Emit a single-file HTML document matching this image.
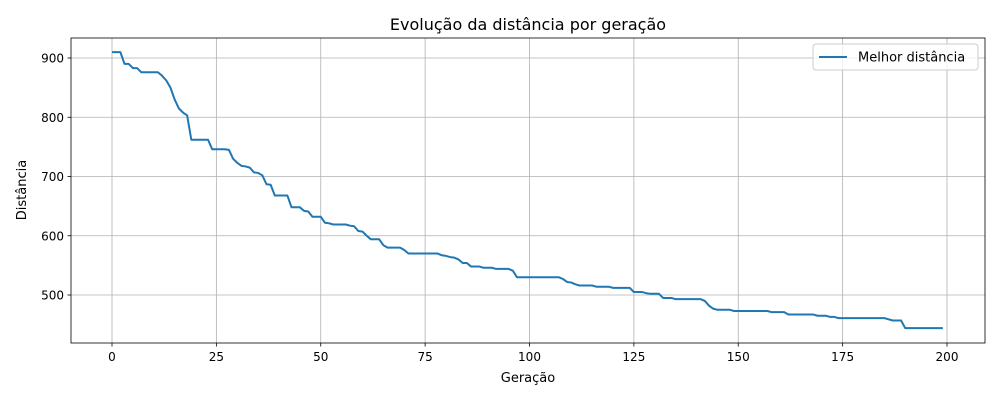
<!DOCTYPE html>
<html><head><meta charset="utf-8"><style>
body{margin:0;background:#fff;}
svg text{font-family:"DejaVu Sans","Liberation Sans",sans-serif;}
</style></head><body>
<svg id="chart" width="1000" height="400" xmlns="http://www.w3.org/2000/svg">
<rect width="1000" height="400" fill="#fff"/>
<g id="grid"></g>
<g id="ticks"></g>
<rect x="71" y="38" width="914" height="305" fill="none" stroke="#000" stroke-width="0.8"/>
<path id="line" fill="none" stroke="#1f77b4" stroke-width="2" stroke-linejoin="round"/>
<text x="528" y="30" font-size="16" text-anchor="middle">Evolução da distância por geração</text>
<text x="528" y="382" font-size="13" text-anchor="middle">Geração</text>
<text x="26" y="190" font-size="13" text-anchor="middle" transform="rotate(-90 26 190)">Distância</text>
<g>
<rect x="813" y="44" width="165" height="26" rx="3" fill="#fff" stroke="#ccc" stroke-width="1" fill-opacity="0.8"/>
<line x1="819" y1="57" x2="847" y2="57" stroke="#1f77b4" stroke-width="2"/>
<text x="858" y="61.5" font-size="13">Melhor distância</text>
</g>
</svg>
<script>
const xTicks=[0,25,50,75,100,125,150,175,200];
const yTicks=[500,600,700,800,900];
const distances=[
910,910,910,890,890,883,883,876,876,876,
876,876,870,862,850,830,815,808,803,762,
762,762,762,762,746,746,746,746,745,730,
723,718,717,715,707,706,702,687,686,668,
668,668,668,648,648,648,642,641,632,632,
632,622,621,619,619,619,619,617,616,608,
607,600,594,594,594,584,580,580,580,580,
576,570,570,570,570,570,570,570,570,567,
566,564,563,560,554,554,548,548,548,546,
546,546,544,544,544,544,541,530,530,530,
530,530,530,530,530,530,530,530,527,522,
521,518,516,516,516,516,514,514,514,514,
512,512,512,512,512,505,505,505,503,502,
502,502,495,495,495,493,493,493,493,493,
493,493,490,482,477,475,475,475,475,473,
473,473,473,473,473,473,473,473,471,471,
471,471,467,467,467,467,467,467,467,465,
465,465,463,463,461,461,461,461,461,461,
461,461,461,461,461,461,459,457,457,457,
444,444,444,444,444,444,444,444,444,444];
const X=v=>112+(v-0)*(947-112)/200;
const Y=v=>58+(900-v)*(295-58)/400;
const NS='http://www.w3.org/2000/svg';
const grid=document.getElementById('grid'),ticks=document.getElementById('ticks');
function mk(tag,attrs,parent){const e=document.createElementNS(NS,tag);for(const k in attrs)e.setAttribute(k,attrs[k]);parent.appendChild(e);return e;}
xTicks.forEach(t=>{
 const x=X(t);
 const g=mk('line',{x1:x,x2:x,y1:38,y2:343,stroke:'#b0b0b0','stroke-width':0.8},grid);
 
 
 mk('line',{x1:x,x2:x,y1:343,y2:346.5,stroke:'#000','stroke-width':0.8},ticks);
 const tx=mk('text',{x:x,y:361,'font-size':12,'text-anchor':'middle'},ticks);
 tx.textContent=t;
 
 
});
yTicks.forEach(t=>{
 const y=Y(t);
 const g=mk('line',{x1:71,x2:985,y1:y,y2:y,stroke:'#b0b0b0','stroke-width':0.8},grid);
 
 
 mk('line',{x1:67.5,x2:71,y1:y,y2:y,stroke:'#000','stroke-width':0.8},ticks);
 const tx=mk('text',{x:64,y:y+4.5,'font-size':12,'text-anchor':'end'},ticks);
 tx.textContent=t;
 
 
});
document.getElementById('line').setAttribute('d',distances.map((v,i)=>(i?'L':'M')+X(i).toFixed(2)+' '+Y(v).toFixed(2)).join(' '));
</script>
</body></html>
